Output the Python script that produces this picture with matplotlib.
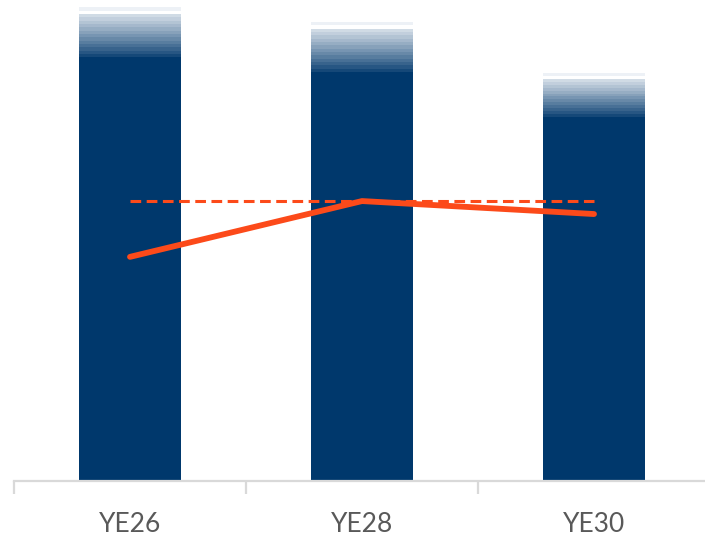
import numpy as np
import matplotlib.pyplot as plt
from matplotlib.colors import to_rgb

years = ["YE26", "YE28", "YE30"]
base = [88.1, 85.0, 75.7]      # solid part of each bar
upper = [98.5, 95.4, 84.8]     # top of the shaded range
actual = [46.6, 58.2, 55.5]    # solid line
target = [58.2, 58.2, 58.2]    # dashed line

navy = "#00386c"
orange = "#fc4a1a"

fig = plt.figure(figsize=(7.05, 5.37), dpi=100)
ax = fig.add_axes([14 / 705, 56 / 537, 696 / 705, 481 / 537])

x = np.arange(len(years))
ax.bar(x, base, width=0.44, color=navy, zorder=2)

# shaded range on top of each bar, drawn as thin stacked bands
n = 15
dark = np.array(to_rgb(navy))
light = np.array(to_rgb("#edf1f6"))
for i in range(len(years)):
    edges = np.linspace(base[i], upper[i], n + 1)
    for k in range(n):
        t = (k + 1) / n
        col = dark + (light - dark) * t ** 0.9
        if k == n - 2:
            col = np.array([1.0, 1.0, 1.0])
        ax.bar(x[i], edges[k + 1] - edges[k], bottom=edges[k], width=0.44,
               color=col, zorder=2)

ax.plot(x, target, color=orange, lw=2.2, ls=(0, (3.5, 1.8)), zorder=3)
ax.plot(x, actual, color=orange, lw=4.2, solid_capstyle="round",
        solid_joinstyle="round", zorder=4)

ax.set_xlim(-0.5, 2.5)
ax.set_ylim(0, 100)
ax.set_yticks([])
ax.set_xticks([-0.5, 0.5, 1.5, 2.5])
ax.set_xticklabels([])
ax.set_xticks(x, minor=True)
ax.set_xticklabels(years, minor=True, fontsize=19, color="#595959", family="Lato")
ax.tick_params(axis="x", which="major", length=9, width=1.6, color="#d9d9d9")
ax.tick_params(axis="x", which="minor", length=0, pad=22)
for s in ["top", "right", "left"]:
    ax.spines[s].set_visible(False)
ax.spines["bottom"].set_color("#d9d9d9")
ax.spines["bottom"].set_linewidth(1.6)

fig.savefig("out.png", dpi=100)
